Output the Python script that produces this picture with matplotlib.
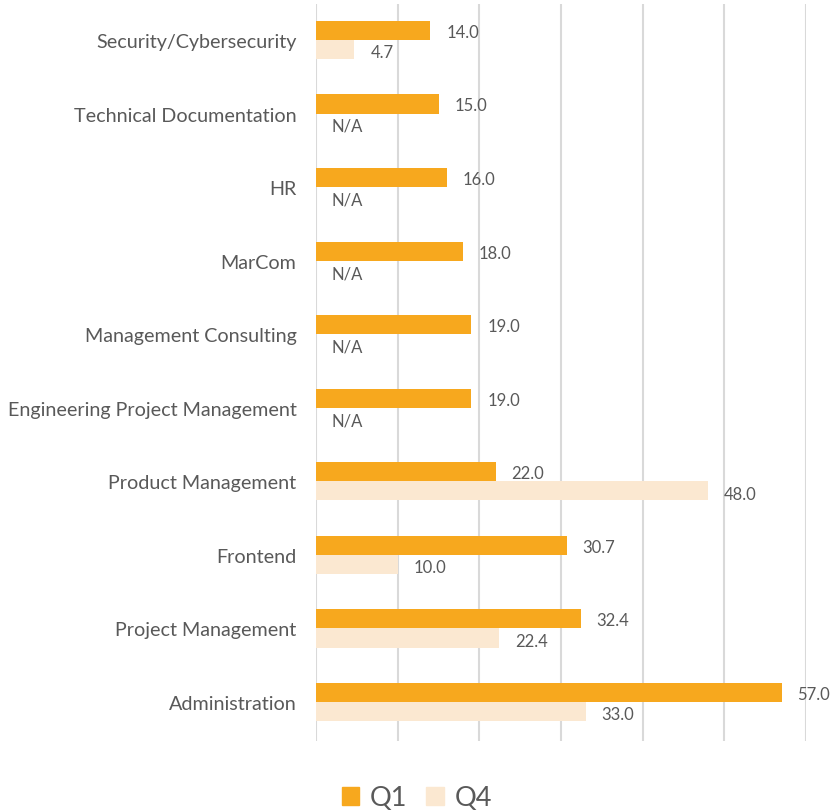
import matplotlib
matplotlib.use("Agg")
import matplotlib.pyplot as plt
import numpy as np
from matplotlib.patches import Patch

categories = ["Administration", "Project Management", "Frontend", "Product Management",
              "Engineering Project Management", "Management Consulting", "MarCom", "HR",
              "Technical Documentation", "Security/Cybersecurity"]
q1 = [57.0, 32.4, 30.7, 22.0, 19.0, 19.0, 18.0, 16.0, 15.0, 14.0]
q4 = [33.0, 22.4, 10.0, 48.0, None, None, None, None, None, 4.7]
x_ticks = [0, 10, 20, 30, 40, 50, 60]

plt.rcParams['font.family'] = ['Lato', 'DejaVu Sans']
text_color = "#595959"
c_q1 = "#F7A81E"
c_q4 = "#FBE8D1"

fig = plt.figure(figsize=(8.31, 8.12), dpi=100)
ax = fig.add_axes([316/831, 1 - 742/812, (806-316)/831, (742-5)/812])

y = np.arange(len(categories))
h = 0.26
q4_vals = [v if v is not None else 0 for v in q4]
ax.barh(y + h/2, q1, height=h, color=c_q1, zorder=3)
ax.barh(y - h/2, q4_vals, height=h, color=c_q4, zorder=3)

for yi, v in zip(y, q1):
    ax.annotate(f"{v:.1f}", (v, yi + h/2), xytext=(11.5, -1.0), textcoords="offset points",
                va="center", ha="left", fontsize=12, color=text_color)
for yi, v in zip(y, q4):
    label = f"{v:.1f}" if v is not None else "N/A"
    xv = v if v is not None else 0
    ax.annotate(label, (xv, yi - h/2), xytext=(11.5, -2.0), textcoords="offset points",
                va="center", ha="left", fontsize=12, color=text_color)

ax.set_xlim(0, 60)
ax.set_ylim(-0.53, 9.49)
ax.set_xticks(x_ticks)
ax.set_xticklabels([])
ax.tick_params(axis="x", length=0)
ax.set_yticks(y)
ax.set_yticklabels(categories, fontsize=14.2, color=text_color)
ax.tick_params(axis="y", length=0, pad=14)
ax.grid(axis="x", color="#D9D9D9", linewidth=1.5, zorder=0)
for s in ["top", "right", "bottom", "left"]:
    ax.spines[s].set_visible(False)

handles = [Patch(color=c_q1, label="Q1"), Patch(color=c_q4, label="Q4")]
leg = fig.legend(handles=handles, loc="center", bbox_to_anchor=(417/831, 1 - 799/812),
                 ncol=2, frameon=False, fontsize=19.5, handlelength=0.65, handleheight=0.65,
                 handletextpad=0.4, columnspacing=0.7, borderpad=0)
for t in leg.get_texts():
    t.set_color(text_color)

fig.savefig("out.png", dpi=100)
